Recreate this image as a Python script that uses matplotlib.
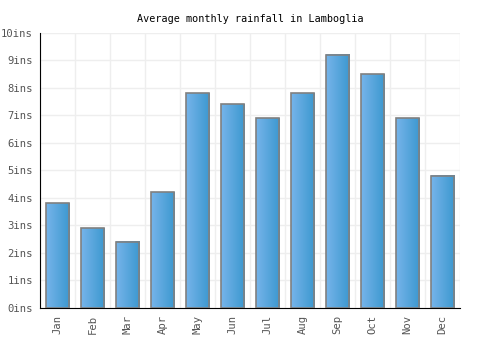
import numpy as np
import matplotlib
matplotlib.use("Agg")
import matplotlib.pyplot as plt
from matplotlib.colors import LinearSegmentedColormap

# ============================== Data ==============================
months = ["Jan", "Feb", "Mar", "Apr", "May", "Jun",
          "Jul", "Aug", "Sep", "Oct", "Nov", "Dec"]
rainfall = [3.8, 2.9, 2.4, 4.2, 7.8, 7.4, 6.9, 7.8, 9.2, 8.5, 6.9, 4.8]
y_ticks = list(range(0, 11))
y_labels = [f"{v}ins" for v in y_ticks]

# ============================== Plot ==============================
plt.rcParams['font.family'] = ['DejaVu Sans Mono']

fig = plt.figure(figsize=(5, 3.5), dpi=100)
ax = fig.add_axes([0.08, 0.12, 0.84, 0.786])

x = np.arange(len(months))
width = 0.68
cmap = LinearSegmentedColormap.from_list("bar", ["#76b4ea", "#3c98cf"])
grad = np.linspace(0, 1, 64).reshape(1, -1)

for xi, val in zip(x, rainfall):
    ax.imshow(grad, cmap=cmap, aspect='auto', zorder=2,
              extent=[xi - width / 2, xi + width / 2, 0, val])
ax.bar(x, rainfall, width=width, facecolor='none', edgecolor='#808080',
       linewidth=1.2, zorder=3)

ax.set_xlim(-0.5, len(months) - 0.5)
ax.set_ylim(0, 10)

# vertical grid at category boundaries
ax.set_xticks(np.arange(-0.5, len(months), 1), minor=True)
ax.set_xticks(x)
ax.set_xticklabels(months, rotation=90, color='#555555', fontsize=7.6)
ax.set_yticks(y_ticks)
ax.set_yticklabels(y_labels, color='#555555', fontsize=7.6)
ax.grid(which='minor', axis='x', color='#eeeeee', linewidth=1, zorder=0)
ax.grid(which='major', axis='y', color='#eeeeee', linewidth=1, zorder=0)
ax.set_axisbelow(True)
ax.tick_params(axis='both', which='both', length=0, pad=5)

for side in ['top', 'right']:
    ax.spines[side].set_visible(False)
ax.spines['left'].set_color('black')
ax.spines['bottom'].set_color('black')

ax.set_title("Average monthly rainfall in Lamboglia", fontsize=7.3, pad=8)

fig.savefig("out.png", dpi=100)
